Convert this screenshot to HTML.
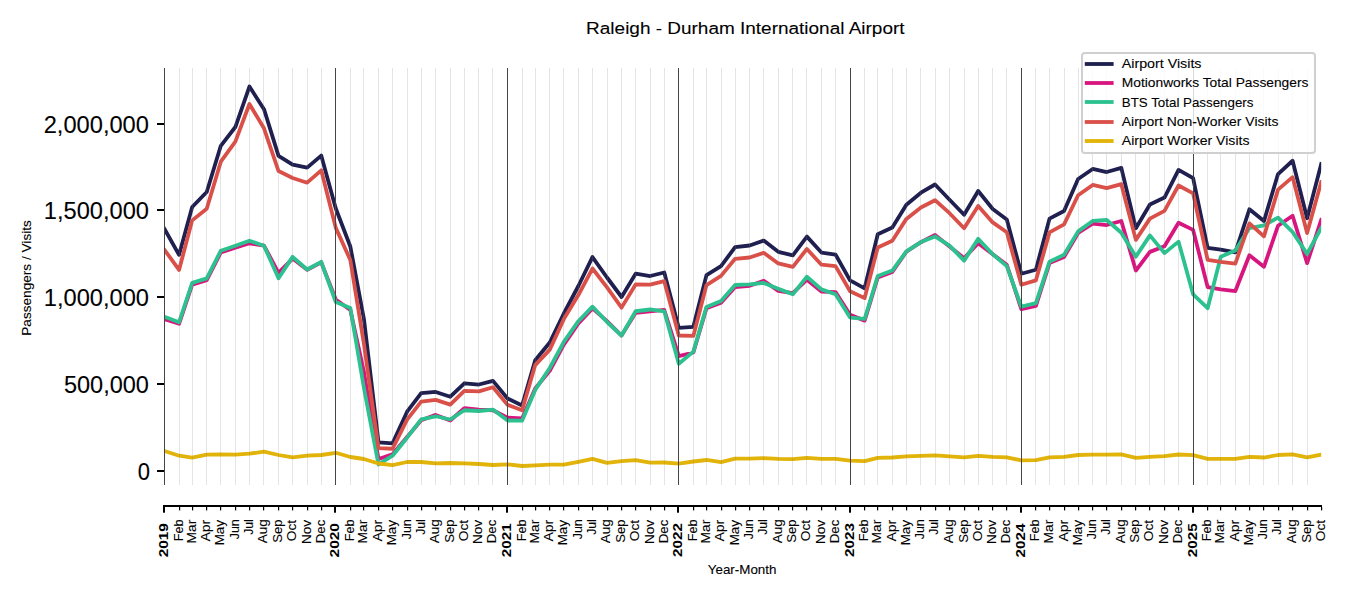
<!DOCTYPE html><html><head><meta charset="utf-8"><style>html,body{margin:0;padding:0;background:#fff;}svg{display:block;}text{font-family:"Liberation Sans",sans-serif;fill:#000;stroke:#000;stroke-width:0.1px;}</style></head><body>
<svg width="1350" height="600" viewBox="0 0 1350 600">
<rect x="0" y="0" width="1350" height="600" fill="#fff"/>
<text x="586.14" y="34.00" font-size="17.4" textLength="318.39" lengthAdjust="spacingAndGlyphs">Raleigh - Durham International Airport</text>
<rect x="164" y="68.0" width="1" height="417.0" fill="#3a3a3a"/>
<rect x="157" y="470" width="7.5" height="2" fill="#000"/>
<text x="137.64" y="479.60" font-size="23.0" textLength="12.22" lengthAdjust="spacingAndGlyphs">0</text>
<rect x="157" y="383" width="7.5" height="2" fill="#000"/>
<text x="63.90" y="392.60" font-size="23.0" textLength="85.02" lengthAdjust="spacingAndGlyphs">500,000</text>
<rect x="157" y="296" width="7.5" height="2" fill="#000"/>
<text x="43.84" y="305.60" font-size="23.0" textLength="105.08" lengthAdjust="spacingAndGlyphs">1,000,000</text>
<rect x="157" y="209" width="7.5" height="2" fill="#000"/>
<text x="43.84" y="218.60" font-size="23.0" textLength="105.08" lengthAdjust="spacingAndGlyphs">1,500,000</text>
<rect x="157" y="123" width="7.5" height="2" fill="#000"/>
<text x="43.69" y="132.60" font-size="23.0" textLength="105.23" lengthAdjust="spacingAndGlyphs">2,000,000</text>
<text transform="translate(30.75,334.66) rotate(-90)" x="-1.12" y="0" font-size="13.1" textLength="115.61" lengthAdjust="spacingAndGlyphs">Passengers / Visits</text>
<defs><clipPath id="ax"><rect x="164.5" y="68.0" width="1156.70125" height="417.0"/></clipPath></defs>
<g clip-path="url(#ax)" fill="none" stroke-width="3.8" stroke-linejoin="round" stroke-linecap="square">
<polyline points="164.50,229.00 179.05,254.86 192.19,206.98 206.73,192.02 220.81,145.79 235.36,127.01 249.43,86.53 263.98,109.19 278.53,155.86 292.61,164.52 307.15,167.65 321.23,155.57 335.78,208.50 350.32,246.50 363.93,319.00 378.48,442.33 392.56,443.28 407.10,411.70 421.18,393.18 435.73,391.97 450.27,396.73 464.35,383.27 478.90,384.52 492.98,380.85 507.52,398.43 522.07,405.51 535.21,360.19 549.75,342.51 563.83,313.50 578.38,286.00 592.46,257.07 607.00,277.50 621.55,296.99 635.63,273.74 650.17,276.02 664.25,272.51 678.80,327.87 693.34,326.77 706.48,275.13 721.03,266.02 735.11,247.19 749.65,245.51 763.73,240.60 778.28,251.83 792.83,255.36 806.90,236.61 821.45,252.57 835.53,254.56 850.07,280.35 864.62,288.32 877.76,234.30 892.31,227.45 906.38,204.69 920.93,192.69 935.01,184.51 949.56,199.70 964.10,214.78 978.18,190.98 992.73,209.01 1006.80,219.55 1021.35,273.72 1035.90,269.78 1049.51,218.62 1064.05,210.96 1078.13,178.96 1092.68,168.97 1106.75,172.04 1121.30,167.86 1135.85,228.23 1149.92,204.46 1164.47,197.56 1178.55,169.89 1193.10,178.21 1207.64,247.84 1220.78,249.70 1235.33,252.30 1249.41,209.26 1263.95,221.08 1278.03,174.06 1292.58,160.75 1307.12,218.24 1321.20,164.00" stroke="#1f1f50"/>
<polyline points="164.50,319.20 179.05,323.81 192.19,284.57 206.73,280.10 220.81,252.40 235.36,247.80 249.43,243.26 263.98,245.67 278.53,272.83 292.61,258.59 307.15,269.74 321.23,262.36 335.78,299.54 350.32,309.94 363.93,372.00 378.48,458.95 392.56,454.26 407.10,437.00 421.18,420.26 435.73,414.90 450.27,420.54 464.35,408.18 478.90,409.70 492.98,410.27 507.52,417.63 522.07,418.47 535.21,388.49 549.75,370.80 563.83,344.60 578.38,323.40 592.46,308.34 607.00,321.20 621.55,335.54 635.63,312.76 650.17,311.40 664.25,309.95 678.80,356.07 693.34,352.48 706.48,308.28 721.03,302.73 735.11,287.10 749.65,285.81 763.73,280.72 778.28,290.84 792.83,293.05 806.90,279.74 821.45,291.57 835.53,292.04 850.07,314.66 864.62,320.62 877.76,277.38 892.31,271.95 906.38,251.68 920.93,242.20 935.01,234.93 949.56,246.40 964.10,258.21 978.18,243.12 992.73,254.20 1006.80,264.76 1021.35,309.15 1035.90,305.88 1049.51,263.10 1064.05,256.96 1078.13,232.97 1092.68,223.62 1106.75,225.02 1121.30,221.01 1135.85,270.55 1149.92,251.86 1164.47,246.26 1178.55,222.70 1193.10,229.90 1207.64,287.10 1220.78,289.40 1235.33,291.02 1249.41,255.29 1263.95,266.86 1278.03,225.75 1292.58,215.70 1307.12,263.14 1321.20,220.00" stroke="#d8157f"/>
<polyline points="164.50,316.70 179.05,322.27 192.19,282.87 206.73,278.40 220.81,250.71 235.36,245.80 249.43,240.71 263.98,245.71 278.53,278.29 292.61,256.87 307.15,269.47 321.23,261.83 335.78,302.08 350.32,307.89 363.93,388.00 378.48,464.47 392.56,455.72 407.10,437.70 421.18,419.32 435.73,416.27 450.27,419.52 464.35,410.23 478.90,411.00 492.98,409.60 507.52,420.48 522.07,420.65 535.21,389.90 549.75,368.00 563.83,341.80 578.38,321.20 592.46,306.67 607.00,322.00 621.55,335.53 635.63,311.26 650.17,309.49 664.25,311.28 678.80,363.71 693.34,351.65 706.48,306.89 721.03,301.03 735.11,284.98 749.65,284.40 763.73,282.96 778.28,288.70 792.83,294.32 806.90,276.68 821.45,289.42 835.53,294.23 850.07,317.55 864.62,318.96 877.76,275.98 892.31,270.56 906.38,251.37 920.93,242.10 935.01,236.42 949.56,245.69 964.10,260.62 978.18,238.86 992.73,254.20 1006.80,266.17 1021.35,306.64 1035.90,303.07 1049.51,261.71 1064.05,254.75 1078.13,231.38 1092.68,220.94 1106.75,219.98 1121.30,232.79 1135.85,256.67 1149.92,235.41 1164.47,253.11 1178.55,241.65 1193.10,294.34 1207.64,308.20 1220.78,256.69 1235.33,250.55 1249.41,228.09 1263.95,225.31 1278.03,217.65 1292.58,232.00 1307.12,253.91 1321.20,228.00" stroke="#2bc28f"/>
<polyline points="164.50,249.80 179.05,269.94 192.19,220.36 206.73,208.74 220.81,161.69 235.36,141.71 249.43,104.00 263.98,128.29 278.53,171.08 292.61,178.00 307.15,182.69 321.23,170.31 335.78,227.90 350.32,260.00 363.93,344.00 378.48,448.13 392.56,448.75 407.10,419.70 421.18,401.59 435.73,399.87 450.27,404.64 464.35,390.78 478.90,391.32 492.98,387.23 507.52,404.85 522.07,410.30 535.21,365.08 549.75,349.61 563.83,319.10 578.38,295.00 592.46,268.52 607.00,287.40 621.55,307.63 635.63,284.41 650.17,284.61 664.25,281.22 678.80,335.49 693.34,335.94 706.48,285.03 721.03,275.91 735.11,258.79 749.65,257.51 763.73,252.82 778.28,263.43 792.83,266.95 806.90,248.95 821.45,264.68 835.53,266.15 850.07,291.26 864.62,298.12 877.76,247.40 892.31,240.75 906.38,218.89 920.93,207.49 935.01,200.19 949.56,213.20 964.10,228.24 978.18,205.89 992.73,222.41 1006.80,232.25 1021.35,284.74 1035.90,280.36 1049.51,232.42 1064.05,224.45 1078.13,195.27 1092.68,184.97 1106.75,188.04 1121.30,184.19 1135.85,239.89 1149.92,218.67 1164.47,210.94 1178.55,185.54 1193.10,193.40 1207.64,259.93 1220.78,261.80 1235.33,263.54 1249.41,223.40 1263.95,236.35 1278.03,189.66 1292.58,177.14 1307.12,233.09 1321.20,182.00" stroke="#da5049"/>
<polyline points="164.50,451.00 179.05,455.70 192.19,457.72 206.73,454.69 220.81,454.30 235.36,454.70 249.43,453.70 263.98,451.68 278.53,455.00 292.61,457.42 307.15,455.70 321.23,455.00 335.78,452.76 350.32,457.00 363.93,459.00 378.48,463.51 392.56,465.02 407.10,461.99 421.18,462.00 435.73,463.40 450.27,463.00 464.35,463.40 478.90,464.00 492.98,465.00 507.52,464.29 522.07,466.01 535.21,465.30 549.75,464.60 563.83,464.61 578.38,461.80 592.46,458.86 607.00,462.93 621.55,461.10 635.63,460.09 650.17,462.71 664.25,462.50 678.80,463.71 693.34,461.50 706.48,459.99 721.03,462.03 735.11,458.69 749.65,458.70 763.73,458.20 778.28,458.90 792.83,459.20 806.90,457.79 821.45,458.90 835.53,458.90 850.07,460.70 864.62,461.11 877.76,457.79 892.31,457.50 906.38,456.40 920.93,455.80 935.01,455.40 949.56,456.40 964.10,457.31 978.18,455.79 992.73,456.80 1006.80,457.29 1021.35,460.41 1035.90,460.11 1049.51,457.29 1064.05,456.80 1078.13,455.00 1092.68,454.70 1106.75,454.70 1121.30,454.39 1135.85,457.82 1149.92,456.80 1164.47,456.10 1178.55,454.50 1193.10,455.19 1207.64,458.91 1220.78,458.90 1235.33,458.90 1249.41,456.79 1263.95,457.51 1278.03,455.00 1292.58,454.39 1307.12,457.33 1321.20,454.70" stroke="#e2b308"/>
</g>
<rect x="164" y="68.0" width="1" height="417.0" fill="#454545"/><rect x="179" y="68.0" width="1" height="417.0" fill="#808080" fill-opacity="0.21"/><rect x="192" y="68.0" width="1" height="417.0" fill="#808080" fill-opacity="0.21"/><rect x="206" y="68.0" width="1" height="417.0" fill="#808080" fill-opacity="0.21"/><rect x="220" y="68.0" width="1" height="417.0" fill="#808080" fill-opacity="0.21"/><rect x="235" y="68.0" width="1" height="417.0" fill="#808080" fill-opacity="0.21"/><rect x="249" y="68.0" width="1" height="417.0" fill="#808080" fill-opacity="0.21"/><rect x="263" y="68.0" width="1" height="417.0" fill="#808080" fill-opacity="0.21"/><rect x="278" y="68.0" width="1" height="417.0" fill="#808080" fill-opacity="0.21"/><rect x="292" y="68.0" width="1" height="417.0" fill="#808080" fill-opacity="0.21"/><rect x="307" y="68.0" width="1" height="417.0" fill="#808080" fill-opacity="0.21"/><rect x="321" y="68.0" width="1" height="417.0" fill="#808080" fill-opacity="0.21"/><rect x="335" y="68.0" width="1" height="417.0" fill="#454545"/><rect x="350" y="68.0" width="1" height="417.0" fill="#808080" fill-opacity="0.21"/><rect x="363" y="68.0" width="1" height="417.0" fill="#808080" fill-opacity="0.21"/><rect x="378" y="68.0" width="1" height="417.0" fill="#808080" fill-opacity="0.21"/><rect x="392" y="68.0" width="1" height="417.0" fill="#808080" fill-opacity="0.21"/><rect x="407" y="68.0" width="1" height="417.0" fill="#808080" fill-opacity="0.21"/><rect x="421" y="68.0" width="1" height="417.0" fill="#808080" fill-opacity="0.21"/><rect x="435" y="68.0" width="1" height="417.0" fill="#808080" fill-opacity="0.21"/><rect x="450" y="68.0" width="1" height="417.0" fill="#808080" fill-opacity="0.21"/><rect x="464" y="68.0" width="1" height="417.0" fill="#808080" fill-opacity="0.21"/><rect x="478" y="68.0" width="1" height="417.0" fill="#808080" fill-opacity="0.21"/><rect x="492" y="68.0" width="1" height="417.0" fill="#808080" fill-opacity="0.21"/><rect x="507" y="68.0" width="1" height="417.0" fill="#454545"/><rect x="522" y="68.0" width="1" height="417.0" fill="#808080" fill-opacity="0.21"/><rect x="535" y="68.0" width="1" height="417.0" fill="#808080" fill-opacity="0.21"/><rect x="549" y="68.0" width="1" height="417.0" fill="#808080" fill-opacity="0.21"/><rect x="563" y="68.0" width="1" height="417.0" fill="#808080" fill-opacity="0.21"/><rect x="578" y="68.0" width="1" height="417.0" fill="#808080" fill-opacity="0.21"/><rect x="592" y="68.0" width="1" height="417.0" fill="#808080" fill-opacity="0.21"/><rect x="607" y="68.0" width="1" height="417.0" fill="#808080" fill-opacity="0.21"/><rect x="621" y="68.0" width="1" height="417.0" fill="#808080" fill-opacity="0.21"/><rect x="635" y="68.0" width="1" height="417.0" fill="#808080" fill-opacity="0.21"/><rect x="650" y="68.0" width="1" height="417.0" fill="#808080" fill-opacity="0.21"/><rect x="664" y="68.0" width="1" height="417.0" fill="#808080" fill-opacity="0.21"/><rect x="678" y="68.0" width="1" height="417.0" fill="#454545"/><rect x="693" y="68.0" width="1" height="417.0" fill="#808080" fill-opacity="0.21"/><rect x="706" y="68.0" width="1" height="417.0" fill="#808080" fill-opacity="0.21"/><rect x="721" y="68.0" width="1" height="417.0" fill="#808080" fill-opacity="0.21"/><rect x="735" y="68.0" width="1" height="417.0" fill="#808080" fill-opacity="0.21"/><rect x="749" y="68.0" width="1" height="417.0" fill="#808080" fill-opacity="0.21"/><rect x="763" y="68.0" width="1" height="417.0" fill="#808080" fill-opacity="0.21"/><rect x="778" y="68.0" width="1" height="417.0" fill="#808080" fill-opacity="0.21"/><rect x="792" y="68.0" width="1" height="417.0" fill="#808080" fill-opacity="0.21"/><rect x="806" y="68.0" width="1" height="417.0" fill="#808080" fill-opacity="0.21"/><rect x="821" y="68.0" width="1" height="417.0" fill="#808080" fill-opacity="0.21"/><rect x="835" y="68.0" width="1" height="417.0" fill="#808080" fill-opacity="0.21"/><rect x="850" y="68.0" width="1" height="417.0" fill="#454545"/><rect x="864" y="68.0" width="1" height="417.0" fill="#808080" fill-opacity="0.21"/><rect x="877" y="68.0" width="1" height="417.0" fill="#808080" fill-opacity="0.21"/><rect x="892" y="68.0" width="1" height="417.0" fill="#808080" fill-opacity="0.21"/><rect x="906" y="68.0" width="1" height="417.0" fill="#808080" fill-opacity="0.21"/><rect x="920" y="68.0" width="1" height="417.0" fill="#808080" fill-opacity="0.21"/><rect x="935" y="68.0" width="1" height="417.0" fill="#808080" fill-opacity="0.21"/><rect x="949" y="68.0" width="1" height="417.0" fill="#808080" fill-opacity="0.21"/><rect x="964" y="68.0" width="1" height="417.0" fill="#808080" fill-opacity="0.21"/><rect x="978" y="68.0" width="1" height="417.0" fill="#808080" fill-opacity="0.21"/><rect x="992" y="68.0" width="1" height="417.0" fill="#808080" fill-opacity="0.21"/><rect x="1006" y="68.0" width="1" height="417.0" fill="#808080" fill-opacity="0.21"/><rect x="1021" y="68.0" width="1" height="417.0" fill="#454545"/><rect x="1035" y="68.0" width="1" height="417.0" fill="#808080" fill-opacity="0.21"/><rect x="1049" y="68.0" width="1" height="417.0" fill="#808080" fill-opacity="0.21"/><rect x="1064" y="68.0" width="1" height="417.0" fill="#808080" fill-opacity="0.21"/><rect x="1078" y="68.0" width="1" height="417.0" fill="#808080" fill-opacity="0.21"/><rect x="1092" y="68.0" width="1" height="417.0" fill="#808080" fill-opacity="0.21"/><rect x="1106" y="68.0" width="1" height="417.0" fill="#808080" fill-opacity="0.21"/><rect x="1121" y="68.0" width="1" height="417.0" fill="#808080" fill-opacity="0.21"/><rect x="1135" y="68.0" width="1" height="417.0" fill="#808080" fill-opacity="0.21"/><rect x="1149" y="68.0" width="1" height="417.0" fill="#808080" fill-opacity="0.21"/><rect x="1164" y="68.0" width="1" height="417.0" fill="#808080" fill-opacity="0.21"/><rect x="1178" y="68.0" width="1" height="417.0" fill="#808080" fill-opacity="0.21"/><rect x="1193" y="68.0" width="1" height="417.0" fill="#454545"/><rect x="1207" y="68.0" width="1" height="417.0" fill="#808080" fill-opacity="0.21"/><rect x="1220" y="68.0" width="1" height="417.0" fill="#808080" fill-opacity="0.21"/><rect x="1235" y="68.0" width="1" height="417.0" fill="#808080" fill-opacity="0.21"/><rect x="1249" y="68.0" width="1" height="417.0" fill="#808080" fill-opacity="0.21"/><rect x="1263" y="68.0" width="1" height="417.0" fill="#808080" fill-opacity="0.21"/><rect x="1278" y="68.0" width="1" height="417.0" fill="#808080" fill-opacity="0.21"/><rect x="1292" y="68.0" width="1" height="417.0" fill="#808080" fill-opacity="0.21"/><rect x="1307" y="68.0" width="1" height="417.0" fill="#808080" fill-opacity="0.21"/>
<rect x="163" y="505" width="1159" height="2" fill="#000"/>
<rect x="163" y="507" width="2" height="5.7" fill="#000"/>
<rect x="179" y="507" width="1.2" height="3.4" fill="#000"/>
<rect x="192" y="507" width="1.2" height="3.4" fill="#000"/>
<rect x="206" y="507" width="1.2" height="3.4" fill="#000"/>
<rect x="220" y="507" width="1.2" height="3.4" fill="#000"/>
<rect x="235" y="507" width="1.2" height="3.4" fill="#000"/>
<rect x="249" y="507" width="1.2" height="3.4" fill="#000"/>
<rect x="263" y="507" width="1.2" height="3.4" fill="#000"/>
<rect x="278" y="507" width="1.2" height="3.4" fill="#000"/>
<rect x="292" y="507" width="1.2" height="3.4" fill="#000"/>
<rect x="307" y="507" width="1.2" height="3.4" fill="#000"/>
<rect x="321" y="507" width="1.2" height="3.4" fill="#000"/>
<rect x="334" y="507" width="2" height="5.7" fill="#000"/>
<rect x="350" y="507" width="1.2" height="3.4" fill="#000"/>
<rect x="363" y="507" width="1.2" height="3.4" fill="#000"/>
<rect x="378" y="507" width="1.2" height="3.4" fill="#000"/>
<rect x="392" y="507" width="1.2" height="3.4" fill="#000"/>
<rect x="407" y="507" width="1.2" height="3.4" fill="#000"/>
<rect x="421" y="507" width="1.2" height="3.4" fill="#000"/>
<rect x="435" y="507" width="1.2" height="3.4" fill="#000"/>
<rect x="450" y="507" width="1.2" height="3.4" fill="#000"/>
<rect x="464" y="507" width="1.2" height="3.4" fill="#000"/>
<rect x="478" y="507" width="1.2" height="3.4" fill="#000"/>
<rect x="492" y="507" width="1.2" height="3.4" fill="#000"/>
<rect x="506" y="507" width="2" height="5.7" fill="#000"/>
<rect x="522" y="507" width="1.2" height="3.4" fill="#000"/>
<rect x="535" y="507" width="1.2" height="3.4" fill="#000"/>
<rect x="549" y="507" width="1.2" height="3.4" fill="#000"/>
<rect x="563" y="507" width="1.2" height="3.4" fill="#000"/>
<rect x="578" y="507" width="1.2" height="3.4" fill="#000"/>
<rect x="592" y="507" width="1.2" height="3.4" fill="#000"/>
<rect x="607" y="507" width="1.2" height="3.4" fill="#000"/>
<rect x="621" y="507" width="1.2" height="3.4" fill="#000"/>
<rect x="635" y="507" width="1.2" height="3.4" fill="#000"/>
<rect x="650" y="507" width="1.2" height="3.4" fill="#000"/>
<rect x="664" y="507" width="1.2" height="3.4" fill="#000"/>
<rect x="677" y="507" width="2" height="5.7" fill="#000"/>
<rect x="693" y="507" width="1.2" height="3.4" fill="#000"/>
<rect x="706" y="507" width="1.2" height="3.4" fill="#000"/>
<rect x="721" y="507" width="1.2" height="3.4" fill="#000"/>
<rect x="735" y="507" width="1.2" height="3.4" fill="#000"/>
<rect x="749" y="507" width="1.2" height="3.4" fill="#000"/>
<rect x="763" y="507" width="1.2" height="3.4" fill="#000"/>
<rect x="778" y="507" width="1.2" height="3.4" fill="#000"/>
<rect x="792" y="507" width="1.2" height="3.4" fill="#000"/>
<rect x="806" y="507" width="1.2" height="3.4" fill="#000"/>
<rect x="821" y="507" width="1.2" height="3.4" fill="#000"/>
<rect x="835" y="507" width="1.2" height="3.4" fill="#000"/>
<rect x="849" y="507" width="2" height="5.7" fill="#000"/>
<rect x="864" y="507" width="1.2" height="3.4" fill="#000"/>
<rect x="877" y="507" width="1.2" height="3.4" fill="#000"/>
<rect x="892" y="507" width="1.2" height="3.4" fill="#000"/>
<rect x="906" y="507" width="1.2" height="3.4" fill="#000"/>
<rect x="920" y="507" width="1.2" height="3.4" fill="#000"/>
<rect x="935" y="507" width="1.2" height="3.4" fill="#000"/>
<rect x="949" y="507" width="1.2" height="3.4" fill="#000"/>
<rect x="964" y="507" width="1.2" height="3.4" fill="#000"/>
<rect x="978" y="507" width="1.2" height="3.4" fill="#000"/>
<rect x="992" y="507" width="1.2" height="3.4" fill="#000"/>
<rect x="1006" y="507" width="1.2" height="3.4" fill="#000"/>
<rect x="1020" y="507" width="2" height="5.7" fill="#000"/>
<rect x="1035" y="507" width="1.2" height="3.4" fill="#000"/>
<rect x="1049" y="507" width="1.2" height="3.4" fill="#000"/>
<rect x="1064" y="507" width="1.2" height="3.4" fill="#000"/>
<rect x="1078" y="507" width="1.2" height="3.4" fill="#000"/>
<rect x="1092" y="507" width="1.2" height="3.4" fill="#000"/>
<rect x="1106" y="507" width="1.2" height="3.4" fill="#000"/>
<rect x="1121" y="507" width="1.2" height="3.4" fill="#000"/>
<rect x="1135" y="507" width="1.2" height="3.4" fill="#000"/>
<rect x="1149" y="507" width="1.2" height="3.4" fill="#000"/>
<rect x="1164" y="507" width="1.2" height="3.4" fill="#000"/>
<rect x="1178" y="507" width="1.2" height="3.4" fill="#000"/>
<rect x="1192" y="507" width="2" height="5.7" fill="#000"/>
<rect x="1207" y="507" width="1.2" height="3.4" fill="#000"/>
<rect x="1220" y="507" width="1.2" height="3.4" fill="#000"/>
<rect x="1235" y="507" width="1.2" height="3.4" fill="#000"/>
<rect x="1249" y="507" width="1.2" height="3.4" fill="#000"/>
<rect x="1263" y="507" width="1.2" height="3.4" fill="#000"/>
<rect x="1278" y="507" width="1.2" height="3.4" fill="#000"/>
<rect x="1292" y="507" width="1.2" height="3.4" fill="#000"/>
<rect x="1307" y="507" width="1.2" height="3.4" fill="#000"/>
<rect x="1321" y="507" width="1.2" height="3.4" fill="#000"/>
<text transform="translate(167.95,556.70) rotate(-90)" x="-0.53" y="0" font-size="13.1" font-weight="bold" style="stroke-width:0" textLength="34.10" lengthAdjust="spacingAndGlyphs">2019</text>
<text transform="translate(182.50,540.22) rotate(-90)" x="-1.04" y="0" font-size="13.1" textLength="21.79" lengthAdjust="spacingAndGlyphs">Feb</text>
<text transform="translate(195.64,542.36) rotate(-90)" x="-1.13" y="0" font-size="13.1" textLength="23.72" lengthAdjust="spacingAndGlyphs">Mar</text>
<text transform="translate(210.18,541.53) rotate(-90)" x="-0.03" y="0" font-size="13.1" textLength="21.79" lengthAdjust="spacingAndGlyphs">Apr</text>
<text transform="translate(224.26,544.24) rotate(-90)" x="-1.10" y="0" font-size="13.1" textLength="25.37" lengthAdjust="spacingAndGlyphs">May</text>
<text transform="translate(238.81,539.12) rotate(-90)" x="-0.20" y="0" font-size="13.1" textLength="20.12" lengthAdjust="spacingAndGlyphs">Jun</text>
<text transform="translate(252.88,534.56) rotate(-90)" x="-0.19" y="0" font-size="13.1" textLength="15.56" lengthAdjust="spacingAndGlyphs">Jul</text>
<text transform="translate(267.43,543.17) rotate(-90)" x="-0.03" y="0" font-size="13.1" textLength="24.07" lengthAdjust="spacingAndGlyphs">Aug</text>
<text transform="translate(281.98,542.05) rotate(-90)" x="-0.59" y="0" font-size="13.1" textLength="23.19" lengthAdjust="spacingAndGlyphs">Sep</text>
<text transform="translate(296.06,540.61) rotate(-90)" x="-0.65" y="0" font-size="13.1" textLength="21.36" lengthAdjust="spacingAndGlyphs">Oct</text>
<text transform="translate(310.60,542.80) rotate(-90)" x="-1.10" y="0" font-size="13.1" textLength="23.95" lengthAdjust="spacingAndGlyphs">Nov</text>
<text transform="translate(324.68,542.19) rotate(-90)" x="-1.09" y="0" font-size="13.1" textLength="23.63" lengthAdjust="spacingAndGlyphs">Dec</text>
<text transform="translate(339.23,556.90) rotate(-90)" x="-0.54" y="0" font-size="13.1" font-weight="bold" style="stroke-width:0" textLength="34.37" lengthAdjust="spacingAndGlyphs">2020</text>
<text transform="translate(353.77,540.22) rotate(-90)" x="-1.04" y="0" font-size="13.1" textLength="21.79" lengthAdjust="spacingAndGlyphs">Feb</text>
<text transform="translate(367.38,542.36) rotate(-90)" x="-1.13" y="0" font-size="13.1" textLength="23.72" lengthAdjust="spacingAndGlyphs">Mar</text>
<text transform="translate(381.93,541.53) rotate(-90)" x="-0.03" y="0" font-size="13.1" textLength="21.79" lengthAdjust="spacingAndGlyphs">Apr</text>
<text transform="translate(396.01,544.24) rotate(-90)" x="-1.10" y="0" font-size="13.1" textLength="25.37" lengthAdjust="spacingAndGlyphs">May</text>
<text transform="translate(410.55,539.12) rotate(-90)" x="-0.20" y="0" font-size="13.1" textLength="20.12" lengthAdjust="spacingAndGlyphs">Jun</text>
<text transform="translate(424.63,534.56) rotate(-90)" x="-0.19" y="0" font-size="13.1" textLength="15.56" lengthAdjust="spacingAndGlyphs">Jul</text>
<text transform="translate(439.18,543.17) rotate(-90)" x="-0.03" y="0" font-size="13.1" textLength="24.07" lengthAdjust="spacingAndGlyphs">Aug</text>
<text transform="translate(453.72,542.05) rotate(-90)" x="-0.59" y="0" font-size="13.1" textLength="23.19" lengthAdjust="spacingAndGlyphs">Sep</text>
<text transform="translate(467.80,540.61) rotate(-90)" x="-0.65" y="0" font-size="13.1" textLength="21.36" lengthAdjust="spacingAndGlyphs">Oct</text>
<text transform="translate(482.35,542.80) rotate(-90)" x="-1.10" y="0" font-size="13.1" textLength="23.95" lengthAdjust="spacingAndGlyphs">Nov</text>
<text transform="translate(496.43,542.19) rotate(-90)" x="-1.09" y="0" font-size="13.1" textLength="23.63" lengthAdjust="spacingAndGlyphs">Dec</text>
<text transform="translate(510.97,556.64) rotate(-90)" x="-0.53" y="0" font-size="13.1" font-weight="bold" style="stroke-width:0" textLength="33.90" lengthAdjust="spacingAndGlyphs">2021</text>
<text transform="translate(525.52,540.22) rotate(-90)" x="-1.04" y="0" font-size="13.1" textLength="21.79" lengthAdjust="spacingAndGlyphs">Feb</text>
<text transform="translate(538.66,542.36) rotate(-90)" x="-1.13" y="0" font-size="13.1" textLength="23.72" lengthAdjust="spacingAndGlyphs">Mar</text>
<text transform="translate(553.20,541.53) rotate(-90)" x="-0.03" y="0" font-size="13.1" textLength="21.79" lengthAdjust="spacingAndGlyphs">Apr</text>
<text transform="translate(567.28,544.24) rotate(-90)" x="-1.10" y="0" font-size="13.1" textLength="25.37" lengthAdjust="spacingAndGlyphs">May</text>
<text transform="translate(581.83,539.12) rotate(-90)" x="-0.20" y="0" font-size="13.1" textLength="20.12" lengthAdjust="spacingAndGlyphs">Jun</text>
<text transform="translate(595.91,534.56) rotate(-90)" x="-0.19" y="0" font-size="13.1" textLength="15.56" lengthAdjust="spacingAndGlyphs">Jul</text>
<text transform="translate(610.45,543.17) rotate(-90)" x="-0.03" y="0" font-size="13.1" textLength="24.07" lengthAdjust="spacingAndGlyphs">Aug</text>
<text transform="translate(625.00,542.05) rotate(-90)" x="-0.59" y="0" font-size="13.1" textLength="23.19" lengthAdjust="spacingAndGlyphs">Sep</text>
<text transform="translate(639.08,540.61) rotate(-90)" x="-0.65" y="0" font-size="13.1" textLength="21.36" lengthAdjust="spacingAndGlyphs">Oct</text>
<text transform="translate(653.62,542.80) rotate(-90)" x="-1.10" y="0" font-size="13.1" textLength="23.95" lengthAdjust="spacingAndGlyphs">Nov</text>
<text transform="translate(667.70,542.19) rotate(-90)" x="-1.09" y="0" font-size="13.1" textLength="23.63" lengthAdjust="spacingAndGlyphs">Dec</text>
<text transform="translate(682.25,556.42) rotate(-90)" x="-0.53" y="0" font-size="13.1" font-weight="bold" style="stroke-width:0" textLength="33.85" lengthAdjust="spacingAndGlyphs">2022</text>
<text transform="translate(696.79,540.22) rotate(-90)" x="-1.04" y="0" font-size="13.1" textLength="21.79" lengthAdjust="spacingAndGlyphs">Feb</text>
<text transform="translate(709.93,542.36) rotate(-90)" x="-1.13" y="0" font-size="13.1" textLength="23.72" lengthAdjust="spacingAndGlyphs">Mar</text>
<text transform="translate(724.48,541.53) rotate(-90)" x="-0.03" y="0" font-size="13.1" textLength="21.79" lengthAdjust="spacingAndGlyphs">Apr</text>
<text transform="translate(738.56,544.24) rotate(-90)" x="-1.10" y="0" font-size="13.1" textLength="25.37" lengthAdjust="spacingAndGlyphs">May</text>
<text transform="translate(753.10,539.12) rotate(-90)" x="-0.20" y="0" font-size="13.1" textLength="20.12" lengthAdjust="spacingAndGlyphs">Jun</text>
<text transform="translate(767.18,534.56) rotate(-90)" x="-0.19" y="0" font-size="13.1" textLength="15.56" lengthAdjust="spacingAndGlyphs">Jul</text>
<text transform="translate(781.73,543.17) rotate(-90)" x="-0.03" y="0" font-size="13.1" textLength="24.07" lengthAdjust="spacingAndGlyphs">Aug</text>
<text transform="translate(796.28,542.05) rotate(-90)" x="-0.59" y="0" font-size="13.1" textLength="23.19" lengthAdjust="spacingAndGlyphs">Sep</text>
<text transform="translate(810.35,540.61) rotate(-90)" x="-0.65" y="0" font-size="13.1" textLength="21.36" lengthAdjust="spacingAndGlyphs">Oct</text>
<text transform="translate(824.90,542.80) rotate(-90)" x="-1.10" y="0" font-size="13.1" textLength="23.95" lengthAdjust="spacingAndGlyphs">Nov</text>
<text transform="translate(838.98,542.19) rotate(-90)" x="-1.09" y="0" font-size="13.1" textLength="23.63" lengthAdjust="spacingAndGlyphs">Dec</text>
<text transform="translate(853.52,556.51) rotate(-90)" x="-0.53" y="0" font-size="13.1" font-weight="bold" style="stroke-width:0" textLength="33.89" lengthAdjust="spacingAndGlyphs">2023</text>
<text transform="translate(868.07,540.22) rotate(-90)" x="-1.04" y="0" font-size="13.1" textLength="21.79" lengthAdjust="spacingAndGlyphs">Feb</text>
<text transform="translate(881.21,542.36) rotate(-90)" x="-1.13" y="0" font-size="13.1" textLength="23.72" lengthAdjust="spacingAndGlyphs">Mar</text>
<text transform="translate(895.76,541.53) rotate(-90)" x="-0.03" y="0" font-size="13.1" textLength="21.79" lengthAdjust="spacingAndGlyphs">Apr</text>
<text transform="translate(909.83,544.24) rotate(-90)" x="-1.10" y="0" font-size="13.1" textLength="25.37" lengthAdjust="spacingAndGlyphs">May</text>
<text transform="translate(924.38,539.12) rotate(-90)" x="-0.20" y="0" font-size="13.1" textLength="20.12" lengthAdjust="spacingAndGlyphs">Jun</text>
<text transform="translate(938.46,534.56) rotate(-90)" x="-0.19" y="0" font-size="13.1" textLength="15.56" lengthAdjust="spacingAndGlyphs">Jul</text>
<text transform="translate(953.01,543.17) rotate(-90)" x="-0.03" y="0" font-size="13.1" textLength="24.07" lengthAdjust="spacingAndGlyphs">Aug</text>
<text transform="translate(967.55,542.05) rotate(-90)" x="-0.59" y="0" font-size="13.1" textLength="23.19" lengthAdjust="spacingAndGlyphs">Sep</text>
<text transform="translate(981.63,540.61) rotate(-90)" x="-0.65" y="0" font-size="13.1" textLength="21.36" lengthAdjust="spacingAndGlyphs">Oct</text>
<text transform="translate(996.18,542.80) rotate(-90)" x="-1.10" y="0" font-size="13.1" textLength="23.95" lengthAdjust="spacingAndGlyphs">Nov</text>
<text transform="translate(1010.25,542.19) rotate(-90)" x="-1.09" y="0" font-size="13.1" textLength="23.63" lengthAdjust="spacingAndGlyphs">Dec</text>
<text transform="translate(1024.80,556.93) rotate(-90)" x="-0.53" y="0" font-size="13.1" font-weight="bold" style="stroke-width:0" textLength="33.84" lengthAdjust="spacingAndGlyphs">2024</text>
<text transform="translate(1039.35,540.22) rotate(-90)" x="-1.04" y="0" font-size="13.1" textLength="21.79" lengthAdjust="spacingAndGlyphs">Feb</text>
<text transform="translate(1052.96,542.36) rotate(-90)" x="-1.13" y="0" font-size="13.1" textLength="23.72" lengthAdjust="spacingAndGlyphs">Mar</text>
<text transform="translate(1067.50,541.53) rotate(-90)" x="-0.03" y="0" font-size="13.1" textLength="21.79" lengthAdjust="spacingAndGlyphs">Apr</text>
<text transform="translate(1081.58,544.24) rotate(-90)" x="-1.10" y="0" font-size="13.1" textLength="25.37" lengthAdjust="spacingAndGlyphs">May</text>
<text transform="translate(1096.13,539.12) rotate(-90)" x="-0.20" y="0" font-size="13.1" textLength="20.12" lengthAdjust="spacingAndGlyphs">Jun</text>
<text transform="translate(1110.20,534.56) rotate(-90)" x="-0.19" y="0" font-size="13.1" textLength="15.56" lengthAdjust="spacingAndGlyphs">Jul</text>
<text transform="translate(1124.75,543.17) rotate(-90)" x="-0.03" y="0" font-size="13.1" textLength="24.07" lengthAdjust="spacingAndGlyphs">Aug</text>
<text transform="translate(1139.30,542.05) rotate(-90)" x="-0.59" y="0" font-size="13.1" textLength="23.19" lengthAdjust="spacingAndGlyphs">Sep</text>
<text transform="translate(1153.38,540.61) rotate(-90)" x="-0.65" y="0" font-size="13.1" textLength="21.36" lengthAdjust="spacingAndGlyphs">Oct</text>
<text transform="translate(1167.92,542.80) rotate(-90)" x="-1.10" y="0" font-size="13.1" textLength="23.95" lengthAdjust="spacingAndGlyphs">Nov</text>
<text transform="translate(1182.00,542.19) rotate(-90)" x="-1.09" y="0" font-size="13.1" textLength="23.63" lengthAdjust="spacingAndGlyphs">Dec</text>
<text transform="translate(1196.55,556.63) rotate(-90)" x="-0.53" y="0" font-size="13.1" font-weight="bold" style="stroke-width:0" textLength="33.88" lengthAdjust="spacingAndGlyphs">2025</text>
<text transform="translate(1211.09,540.22) rotate(-90)" x="-1.04" y="0" font-size="13.1" textLength="21.79" lengthAdjust="spacingAndGlyphs">Feb</text>
<text transform="translate(1224.23,542.36) rotate(-90)" x="-1.13" y="0" font-size="13.1" textLength="23.72" lengthAdjust="spacingAndGlyphs">Mar</text>
<text transform="translate(1238.78,541.53) rotate(-90)" x="-0.03" y="0" font-size="13.1" textLength="21.79" lengthAdjust="spacingAndGlyphs">Apr</text>
<text transform="translate(1252.86,544.24) rotate(-90)" x="-1.10" y="0" font-size="13.1" textLength="25.37" lengthAdjust="spacingAndGlyphs">May</text>
<text transform="translate(1267.40,539.12) rotate(-90)" x="-0.20" y="0" font-size="13.1" textLength="20.12" lengthAdjust="spacingAndGlyphs">Jun</text>
<text transform="translate(1281.48,534.56) rotate(-90)" x="-0.19" y="0" font-size="13.1" textLength="15.56" lengthAdjust="spacingAndGlyphs">Jul</text>
<text transform="translate(1296.03,543.17) rotate(-90)" x="-0.03" y="0" font-size="13.1" textLength="24.07" lengthAdjust="spacingAndGlyphs">Aug</text>
<text transform="translate(1310.57,542.05) rotate(-90)" x="-0.59" y="0" font-size="13.1" textLength="23.19" lengthAdjust="spacingAndGlyphs">Sep</text>
<text transform="translate(1324.65,540.61) rotate(-90)" x="-0.65" y="0" font-size="13.1" textLength="21.36" lengthAdjust="spacingAndGlyphs">Oct</text>
<text x="707.81" y="573.80" font-size="13.1" textLength="68.66" lengthAdjust="spacingAndGlyphs">Year-Month</text>
<rect x="1082" y="53" width="233" height="100" rx="2.8" ry="2.8" fill="#fff" fill-opacity="0.8" stroke="#d0d0d0" stroke-width="2"/>
<line x1="1086.7" y1="64.00" x2="1111.7" y2="64.00" stroke="#1f1f50" stroke-width="3.8" stroke-linecap="square"/>
<text x="1121.77" y="67.80" font-size="13.1" textLength="79.73" lengthAdjust="spacingAndGlyphs">Airport Visits</text>
<line x1="1086.7" y1="83.00" x2="1111.7" y2="83.00" stroke="#d8157f" stroke-width="3.8" stroke-linecap="square"/>
<text x="1121.80" y="86.80" font-size="13.1" textLength="186.62" lengthAdjust="spacingAndGlyphs">Motionworks Total Passengers</text>
<line x1="1086.7" y1="102.00" x2="1111.7" y2="102.00" stroke="#2bc28f" stroke-width="3.8" stroke-linecap="square"/>
<text x="1121.83" y="106.50" font-size="13.1" textLength="131.57" lengthAdjust="spacingAndGlyphs">BTS Total Passengers</text>
<line x1="1086.7" y1="122.00" x2="1111.7" y2="122.00" stroke="#da5049" stroke-width="3.8" stroke-linecap="square"/>
<text x="1121.77" y="125.60" font-size="13.1" textLength="156.64" lengthAdjust="spacingAndGlyphs">Airport Non-Worker Visits</text>
<line x1="1086.7" y1="141.00" x2="1111.7" y2="141.00" stroke="#e2b308" stroke-width="3.8" stroke-linecap="square"/>
<text x="1121.77" y="144.60" font-size="13.1" textLength="127.72" lengthAdjust="spacingAndGlyphs">Airport Worker Visits</text>
</svg></body></html>
